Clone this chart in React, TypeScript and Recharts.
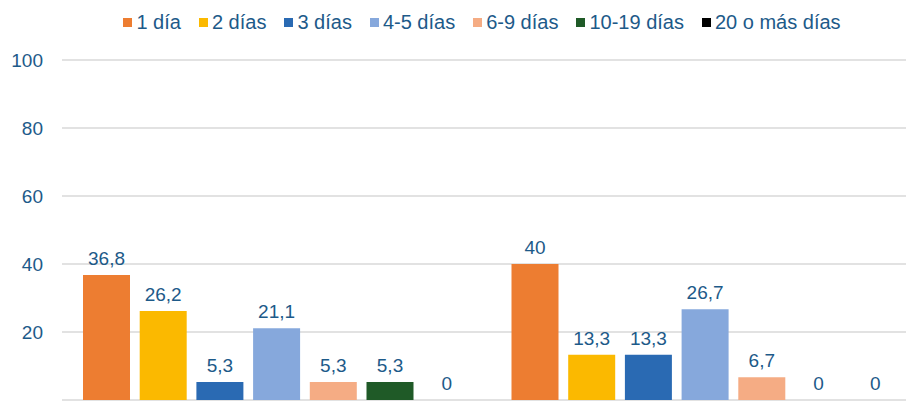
import { BarChart, Bar, XAxis, YAxis, CartesianGrid, Legend, LabelList } from 'recharts';

const categories = ['Grupo 1', 'Grupo 2'];
const seriesNames = ['1 día', '2 días', '3 días', '4-5 días', '6-9 días', '10-19 días', '20 o más días'];
const seriesColors = ['#ED7D31', '#FBB900', '#2A6AB3', '#86A8DC', '#F5AC84', '#1F5A27', '#000000'];
const unDia = [36.8, 40];
const dosDias = [26.2, 13.3];
const tresDias = [5.3, 13.3];
const cuatroCincoDias = [21.1, 26.7];
const seisNueveDias = [5.3, 6.7];
const diezDiecinueveDias = [5.3, 0];
const veinteOMasDias = [0, 0];
const yTicks = [0, 20, 40, 60, 80, 100];

const seriesValues = [unDia, dosDias, tresDias, cuatroCincoDias, seisNueveDias, diezDiecinueveDias, veinteOMasDias];

const data = categories.map((name, i) => {
    const row: Record<string, string | number> = { name };
    seriesNames.forEach((s, j) => {
        row[`s${j}`] = seriesValues[j][i];
    });
    return row;
});

const textColor = '#1D5A89';
const font = '"Liberation Sans", Arial, sans-serif';

function LegendContent() {
    return (
        <div style={{ height: 60, boxSizing: 'border-box', paddingTop: 10 }}>
            <div
                style={{
                    display: 'flex',
                    justifyContent: 'center',
                    alignItems: 'center',
                    height: 24,
                    fontFamily: font,
                    fontSize: 20,
                    color: textColor,
                    whiteSpace: 'nowrap',
                }}
            >
                {seriesNames.map((s, i) => (
                    <div key={s} style={{ display: 'flex', alignItems: 'center', marginRight: i < seriesNames.length - 1 ? 18 : 0 }}>
                        <span style={{ width: 9, height: 9, background: seriesColors[i], marginRight: 4, display: 'inline-block' }} />
                        <span>{s}</span>
                    </div>
                ))}
            </div>
        </div>
    );
}

const fmt = (v: unknown) => String(v).replace('.', ',');

export default function App() {
    return (
        <div style={{ position: 'absolute', left: 0, top: 0, width: 906, height: 406, overflow: 'hidden', background: '#fff' }}>
            <BarChart
                width={920}
                height={406}
                data={data}
                margin={{ top: 0, right: 1, bottom: 6, left: 0 }}
                barSize={47}
                barGap={9.7}
            >
                <CartesianGrid vertical={false} stroke="#D9D9D9" strokeWidth={1.5} />
                <XAxis dataKey="name" hide />
                <YAxis
                    domain={[0, 100]}
                    ticks={yTicks}
                    width={62}
                    axisLine={false}
                    tickLine={false}
                    tickSize={0}
                    tickMargin={19}
                    tick={{ fill: textColor, fontSize: 19, fontFamily: font }}
                />
                <Legend
                    verticalAlign="top"
                    content={() => <LegendContent />}
                    wrapperStyle={{ top: 0, left: 42, width: 880 }}
                />
                {seriesNames.map((s, i) => (
                    <Bar
                        key={s}
                        dataKey={`s${i}`}
                        name={s}
                        fill={seriesColors[i]}
                        minPointSize={0.01}
                        isAnimationActive={false}
                    >
                        <LabelList
                            dataKey={`s${i}`}
                            position="top"
                            offset={10}
                            formatter={fmt}
                            style={{ fill: textColor, fontSize: 19, fontFamily: font }}
                        />
                    </Bar>
                ))}
            </BarChart>
        </div>
    );
}
